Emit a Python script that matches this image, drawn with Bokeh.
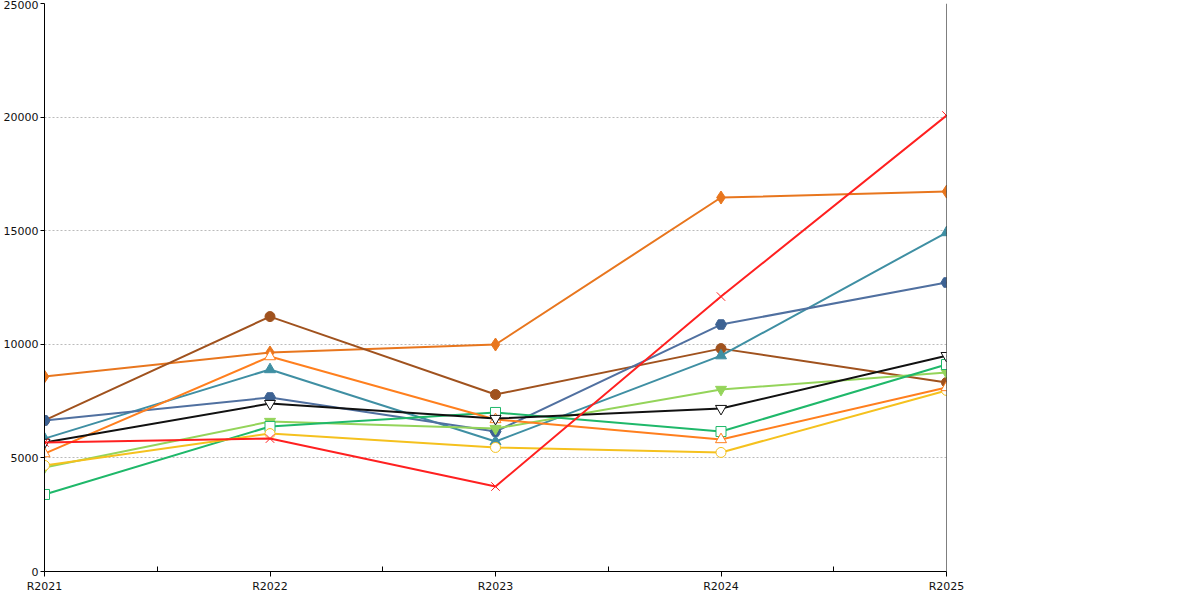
from bokeh.plotting import figure
from bokeh.models import Legend, LegendItem, Span, FixedTicker, Range1d
from bokeh.embed import file_html
from bokeh.resources import INLINE

years = ["R2021", "R2022", "R2023", "R2024", "R2025"]
names = ["7 500 a méně", "7 501 až 8 500", "8 501 až 12 000", "17 001 až 23 000",
         "23 001 až 30 000", "30 001 až 50 000", "50 001 až 70 000", "více než 70 001",
         "všechna města", "Údaje vašeho úřadu"]
s1 = [8580, 9640, 9990, 16460, 16720]
s2 = [6650, 11220, 7790, 9810, 8320]
s3 = [5850, 8890, 5720, 9500, 14920]
s4 = [6650, 7660, 6160, 10870, 12720]
s5 = [4580, 6600, 6290, 8010, 8760]
s6 = [3390, 6380, 7000, 6160, 9110]
s7 = [4670, 6070, 5460, 5240, 7970]
s8 = [5190, 9460, 6690, 5810, 8100]
s9 = [5680, 7390, 6730, 7170, 9500]
s10 = [5680, 5850, 3740, 12100, 20070]
series = [s1, s2, s3, s4, s5, s6, s7, s8, s9, s10]
colors = ["#e8761e", "#a0521e", "#3f8fa3", "#3d6293", "#94d45a", "#1fb86a",
          "#f5c11e", "#ff7f1e", "#111111", "#ff2020"]
markers = ["diamond", "circle", "triangle", "hex", "inverted_triangle", "square",
           "circle", "triangle", "inverted_triangle", "x"]
filled = [True, True, True, True, True, False, False, False, False, False]
msize = [13, 10, 11, 11, 11, 10, 10, 11, 11, 12]
line_colors = ["#e8761e", "#a0521e", "#3f8fa3", "#5070a0", "#94d45a", "#1fb86a",
               "#f5c11e", "#ff7f1e", "#111111", "#ff2020"]

x = list(range(len(years)))
p = figure(frame_width=902, frame_height=568, output_backend="svg", toolbar_location=None,
           x_range=Range1d(0, 4), y_range=Range1d(0, 25000),
           min_border_left=40, min_border_right=242, min_border_top=3, min_border_bottom=16)
p.outline_line_color = None
p.xgrid.grid_line_color = None
p.ygrid.grid_line_color = "#bbbbbb"
p.ygrid.grid_line_dash = "2 2"
p.yaxis.ticker = FixedTicker(ticks=[0, 5000, 10000, 15000, 20000, 25000], minor_ticks=[])
p.xaxis.ticker = FixedTicker(ticks=x, minor_ticks=[0.5, 1.5, 2.5, 3.5])
p.xaxis.major_label_overrides = {i: y for i, y in enumerate(years)}
for ax in (p.xaxis, p.yaxis):
    ax.axis_line_color = "black"
    ax.major_tick_line_color = "black"
    ax.major_label_text_font = "DejaVu Sans"
    ax.major_label_text_font_size = "11px"
    ax.major_label_text_color = "#111111"
p.xaxis.major_tick_in = 0
p.xaxis.major_tick_out = 5
p.xaxis.minor_tick_in = 5
p.xaxis.minor_tick_out = 0
p.xaxis.minor_tick_line_color = "black"
p.yaxis.major_tick_in = 0
p.yaxis.major_tick_out = 4
p.yaxis.major_label_standoff = 2
p.xaxis.major_label_standoff = 3
p.add_layout(Span(location=4, dimension="height", line_color="black", line_width=1))

items = []
for i, s in enumerate(series):
    p.line(x, s, line_color=line_colors[i], line_width=2)
    kw = dict(marker=markers[i], size=msize[i], line_color=colors[i], line_width=1)
    kw["fill_color"] = colors[i] if filled[i] else "white"
    r = p.scatter(x, s, **kw)
    items.append(LegendItem(label=names[i], renderers=[r]))

leg = Legend(items=items, location=(1007, 279), border_line_color="#333333",
             label_text_font="DejaVu Sans", label_text_font_size="12px",
             spacing=13, padding=8, glyph_width=14, glyph_height=16,
             label_standoff=4, margin=0, label_height=16)
p.add_layout(leg, "center")

open("out.html", "w").write(file_html(p, INLINE))
